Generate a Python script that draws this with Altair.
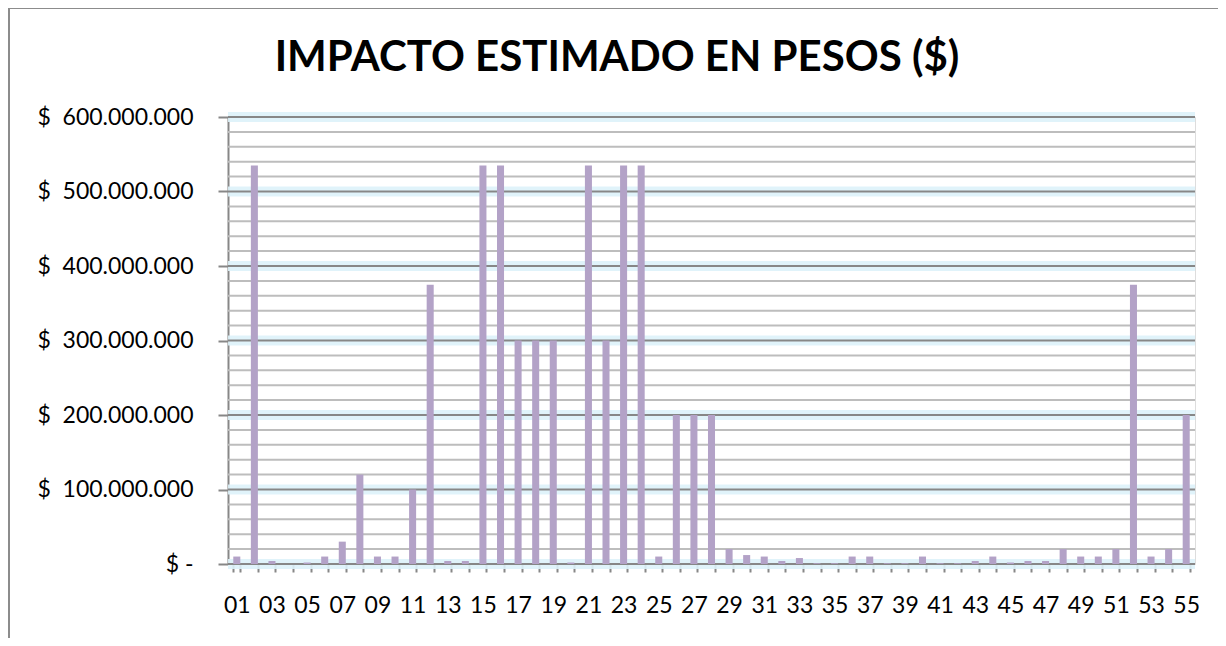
import altair as alt
import pandas as pd

categories = [f"{i:02d}" for i in range(1, 56)]
values = [
    10e6, 535e6, 4e6, 0, 2e6, 10e6, 30e6, 120e6, 10e6, 10e6,
    100e6, 375e6, 4e6, 4e6, 535e6, 535e6, 300e6, 300e6, 300e6, 2e6,
    535e6, 300e6, 535e6, 535e6, 10e6, 200e6, 200e6, 200e6, 20e6, 12e6,
    10e6, 4e6, 8e6, 1e6, 1e6, 10e6, 10e6, 1e6, 1e6, 10e6,
    1e6, 1e6, 4e6, 10e6, 2e6, 4e6, 4e6, 20e6, 10e6, 10e6,
    20e6, 375e6, 10e6, 20e6, 200e6,
]
major_ticks = [0, 100e6, 200e6, 300e6, 400e6, 500e6, 600e6]
minor_ticks = [v for v in range(0, 600000001, 20000000) if v % 100000000 != 0]
title_text = ["IMPACTO ESTIMADO EN PESOS ($)"]

df = pd.DataFrame({"cat": categories, "value": values})
df_major = pd.DataFrame({"v": major_ticks})
df_minor = pd.DataFrame({"v": minor_ticks})
df_title = pd.DataFrame({"t": title_text})

W, H = 967, 447
FONT = "Lato"
yscale = alt.Scale(domain=[0, 600e6], nice=False, zero=True)

nb = "\u00a0"
label_expr = (
    f"datum.value == 0 ? '${nb}-{nb}{nb}{nb}{nb}{nb}' : "
    f"'${nb}{nb}' + replace(format(datum.value, ',.0f'), regexp(',', 'g'), '.')"
)

y_axis = alt.Axis(
    title=None,
    values=major_ticks,
    domain=True,
    domainColor="#878787",
    domainWidth=2,
    ticks=True,
    tickSize=10,
    tickColor="#878787",
    tickWidth=2,
    labelFont=FONT,
    labelFontSize=23,
    labelColor="#000000",
    labelPadding=25,
    labelExpr=label_expr,
    grid=False,
)

glow = alt.Chart(df_major).mark_rule(color="#DDF2FA", strokeWidth=10, opacity=0.9).encode(
    y=alt.Y("v:Q", scale=yscale, axis=y_axis)
)
minor = alt.Chart(df_minor).mark_rule(color="#BDBDBD", strokeWidth=2).encode(
    y=alt.Y("v:Q", scale=yscale, axis=y_axis)
)
major = alt.Chart(df_major).mark_rule(color="#878787", strokeWidth=2).encode(
    y=alt.Y("v:Q", scale=yscale, axis=y_axis)
)

bars = alt.Chart(df).mark_bar(color="#B3A2C7").encode(
    x=alt.X(
        "cat:N",
        sort=categories,
        scale=alt.Scale(paddingInner=0.6, paddingOuter=0.3),
        axis=alt.Axis(
            title=None,
            domain=False,
            ticks=True,
            tickBand="extent",
            tickSize=8,
            tickColor="#878787",
            tickWidth=2,
            labelAngle=0,
            labelFont=FONT,
            labelFontSize=23,
            labelColor="#000000",
            labelPadding=22,
            labelOverlap=False,
            labelExpr="toNumber(datum.value) % 2 == 1 ? datum.label : ''",
            grid=False,
        ),
    ),
    y=alt.Y("value:Q", scale=yscale, axis=y_axis),
)

frame_left = alt.Chart(df_title).mark_rule(color="#8C8C8C", strokeWidth=2).encode(
    x=alt.value(-219), y=alt.value(-109), y2=alt.value(545)
)
frame_top = alt.Chart(df_title).mark_rule(color="#8C8C8C", strokeWidth=2).encode(
    x=alt.value(-220), x2=alt.value(993), y=alt.value(-109)
)
title = alt.Chart(df_title).mark_text(
    font=FONT, fontSize=42, fontWeight="bold", color="#000000",
    align="center", baseline="alphabetic",
).encode(x=alt.value(389), y=alt.value(-46), text="t:N")

chart = (
    alt.layer(frame_left, frame_top, glow, minor, major, bars, title)
    .properties(
        width=W,
        height=H,
        padding={"left": 220, "top": 109, "right": 23, "bottom": 74},
        autosize=alt.AutoSizeParams(type="none"),
    )
    .configure_view(stroke=None)
    .configure(background="white")
)

chart.save("out.html", embed_options={"renderer": "svg", "actions": False})
